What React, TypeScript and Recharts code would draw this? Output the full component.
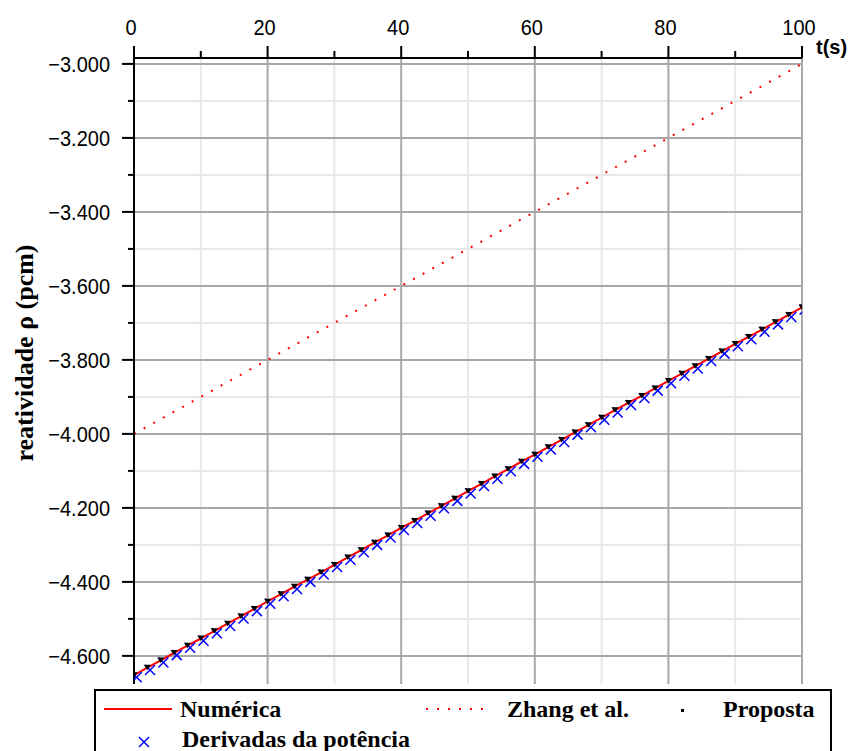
import React from "react";
import {
  ComposedChart,
  Line,
  Scatter,
  XAxis,
  YAxis,
  CartesianGrid,
} from "recharts";

// tempo (s) for the sampled points
const tempo = [
  0, 2, 4, 6, 8, 10, 12, 14, 16, 18, 20, 22, 24, 26, 28, 30, 32, 34, 36, 38,
  40, 42, 44, 46, 48, 50, 52, 54, 56, 58, 60, 62, 64, 66, 68, 70, 72, 74, 76,
  78, 80, 82, 84, 86, 88, 90, 92, 94, 96, 98, 100,
];

// reatividade (pcm) - solução numérica
const numerica = [
  -4652, -4632, -4612, -4592, -4572, -4553, -4533, -4513, -4493, -4473, -4453,
  -4433, -4413, -4394, -4374, -4354, -4334, -4314, -4294, -4274, -4254, -4235,
  -4215, -4195, -4175, -4155, -4135, -4115, -4095, -4075, -4056, -4036, -4016,
  -3996, -3976, -3956, -3936, -3916, -3897, -3877, -3857, -3837, -3817, -3797,
  -3777, -3757, -3738, -3718, -3698, -3678, -3658,
];

// proposta (pontos pretos)
const proposta = [
  -4651, -4631, -4611, -4591, -4571, -4552, -4532, -4512, -4492, -4472, -4452,
  -4432, -4412, -4393, -4373, -4353, -4333, -4313, -4293, -4273, -4253, -4234,
  -4214, -4194, -4174, -4154, -4134, -4114, -4094, -4074, -4055, -4035, -4015,
  -3995, -3975, -3955, -3935, -3915, -3896, -3876, -3856, -3836, -3816, -3796,
  -3776, -3756, -3737, -3717, -3697, -3677, -3657,
];

// derivadas da potência (cruzes azuis)
const tempoDerivadas = [
  0.4, 2.4, 4.4, 6.4, 8.4, 10.4, 12.4, 14.4, 16.4, 18.4, 20.4, 22.4, 24.4,
  26.4, 28.4, 30.4, 32.4, 34.4, 36.4, 38.4, 40.4, 42.4, 44.4, 46.4, 48.4, 50.4,
  52.4, 54.4, 56.4, 58.4, 60.4, 62.4, 64.4, 66.4, 68.4, 70.4, 72.4, 74.4, 76.4,
  78.4, 80.4, 82.4, 84.4, 86.4, 88.4, 90.4, 92.4, 94.4, 96.4, 98.4, 100.4,
];
const derivadas = [
  -4658, -4638, -4618, -4598, -4578, -4559, -4539, -4519, -4499, -4479, -4459,
  -4439, -4419, -4400, -4380, -4360, -4340, -4320, -4300, -4280, -4260, -4241,
  -4221, -4201, -4181, -4161, -4141, -4121, -4101, -4081, -4062, -4042, -4022,
  -4002, -3982, -3962, -3942, -3922, -3903, -3883, -3863, -3843, -3823, -3803,
  -3783, -3763, -3744, -3724, -3704, -3684, -3664,
];

// Zhang et al.
const tempoZhang = [0, 100];
const zhang = [-4000, -3000];

const xTicks = [0, 10, 20, 30, 40, 50, 60, 70, 80, 90, 100];
const xMajor = [0, 20, 40, 60, 80, 100];
const yTicks = [
  -4600, -4500, -4400, -4300, -4200, -4100, -4000, -3900, -3800, -3700, -3600,
  -3500, -3400, -3300, -3200, -3100, -3000,
];
const yMajor = [-4600, -4400, -4200, -4000, -3800, -3600, -3400, -3200, -3000];

const numericaData = tempo.map((t, i) => ({ t, v: numerica[i] }));
const propostaData = tempo.map((t, i) => ({ t, v: proposta[i] }));
const derivadasData = tempoDerivadas.map((t, i) => ({ t, v: derivadas[i] }));
const zhangData = tempoZhang.map((t, i) => ({ t, v: zhang[i] }));

const tickFont = "'Liberation Sans', Arial, sans-serif";
const serifFont = "'Liberation Serif', 'Times New Roman', serif";

const fmtY = (v: number) => "\u2212" + (Math.abs(v) / 1000).toFixed(3);

function XTick(props: any) {
  const { x, y, payload } = props;
  const major = xMajor.includes(payload.value);
  return (
    <g>
      <line x1={x} y1={y} x2={x} y2={y - (major ? 12 : 7)} stroke="#000" strokeWidth={2} />
      {major && (
        <text
          transform={`translate(${x - 3},${y - 23}) scale(1,1.12)`}
          textAnchor="middle"
          fontFamily={tickFont}
          fontSize={20}
          fill="#000"
        >
          {payload.value}
        </text>
      )}
    </g>
  );
}

function YTick(props: any) {
  const { x, y, payload } = props;
  const major = yMajor.includes(payload.value);
  return (
    <g>
      <line x1={x} y1={y} x2={x - (major ? 12 : 6)} y2={y} stroke="#000" strokeWidth={2} />
      {major && (
        <text
          transform={`translate(${x - 24},${y + 8}) scale(1,1.12)`}
          textAnchor="end"
          fontFamily={tickFont}
          fontSize={20}
          fill="#000"
        >
          {fmtY(payload.value)}
        </text>
      )}
    </g>
  );
}

function Cruz(props: any) {
  const { cx, cy } = props;
  return (
    <g stroke="#0000ff" strokeWidth={1.5}>
      <line x1={cx - 5} y1={cy - 5} x2={cx + 5} y2={cy + 5} />
      <line x1={cx - 5} y1={cy + 5} x2={cx + 5} y2={cy - 5} />
    </g>
  );
}

function Ponto(props: any) {
  const { cx, cy } = props;
  return <polygon points={`${cx - 3.5},${cy - 2.5} ${cx + 3.5},${cy - 2.5} ${cx},${cy + 3}`} fill="#000" />;
}

export default function App() {
  return (
    <div style={{ position: "relative", width: 854, height: 751, overflow: "hidden", background: "#fff" }}>
      <style>{"body{margin:0}"}</style>
      <ComposedChart
        width={854}
        height={751}
        margin={{ top: 0, right: 52, bottom: 67, left: 0 }}
      >
        <CartesianGrid
          verticalValues={xTicks.filter((v) => !xMajor.includes(v))}
          horizontalValues={yTicks.filter((v) => !yMajor.includes(v))}
          stroke="#e8e8e8"
          strokeWidth={2}
        />
        <CartesianGrid
          verticalValues={xMajor.filter((v) => v !== 0)}
          horizontalValues={yMajor}
          stroke="#a8a8a8"
          strokeWidth={2}
        />
        <XAxis
          dataKey="t"
          type="number"
          orientation="top"
          domain={[0, 100]}
          ticks={xTicks}
          interval={0}
          height={58}
          tickSize={0}
          tickMargin={0}
          tick={<XTick />}
          axisLine={{ stroke: "#000", strokeWidth: 2 }}
          allowDataOverflow
        />
        <YAxis
          type="number"
          domain={[-4676, -2984]}
          ticks={yTicks}
          interval={0}
          width={134}
          tickSize={0}
          tickMargin={0}
          tick={<YTick />}
          axisLine={{ stroke: "#000", strokeWidth: 2 }}
          allowDataOverflow
        />
        <Line
          data={zhangData}
          dataKey="v"
          stroke="#ff0000"
          strokeWidth={2}
          strokeDasharray="2 9"
          dot={false}
          activeDot={false}
          isAnimationActive={false}
        />
        <Line
          data={numericaData}
          dataKey="v"
          stroke="#ff0000"
          strokeWidth={2}
          dot={false}
          activeDot={false}
          isAnimationActive={false}
        />
        <Scatter data={derivadasData} dataKey="v" shape={<Cruz />} isAnimationActive={false} />
        <Scatter data={propostaData} dataKey="v" shape={<Ponto />} isAnimationActive={false} />
      </ComposedChart>

      <svg
        width={854}
        height={751}
        style={{ position: "absolute", left: 0, top: 0, pointerEvents: "none" }}
      >
        <text x={816} y={54} fontFamily={tickFont} fontWeight="bold" fontSize={20} fill="#000">
          t(s)
        </text>
        <text
          transform="translate(33,353) rotate(-90)"
          textAnchor="middle"
          fontFamily={serifFont}
          fontWeight="bold"
          fontSize={26}
          fill="#000"
        >
          reatividade ρ (pcm)
        </text>

        {/* legenda */}
        <rect x={95} y={690} width={736} height={80} fill="#fff" stroke="#000" strokeWidth={2} />
        <line x1={104} y1={709} x2={172} y2={709} stroke="#ff0000" strokeWidth={2} />
        <text x={180} y={717} fontFamily={serifFont} fontWeight="bold" fontSize={24}>
          Numérica
        </text>
        <line x1={426} y1={709} x2={492} y2={709} stroke="#ff0000" strokeWidth={2} strokeDasharray="2 9" />
        <text x={507} y={717} fontFamily={serifFont} fontWeight="bold" fontSize={24}>
          Zhang et al.
        </text>
        <rect x={681} y={709} width={3} height={3} fill="#000" />
        <text x={723} y={717} fontFamily={serifFont} fontWeight="bold" fontSize={24}>
          Proposta
        </text>
        <Cruz cx={144} cy={742} />
        <text x={182} y={747} fontFamily={serifFont} fontWeight="bold" fontSize={24}>
          Derivadas da potência
        </text>
      </svg>
    </div>
  );
}
